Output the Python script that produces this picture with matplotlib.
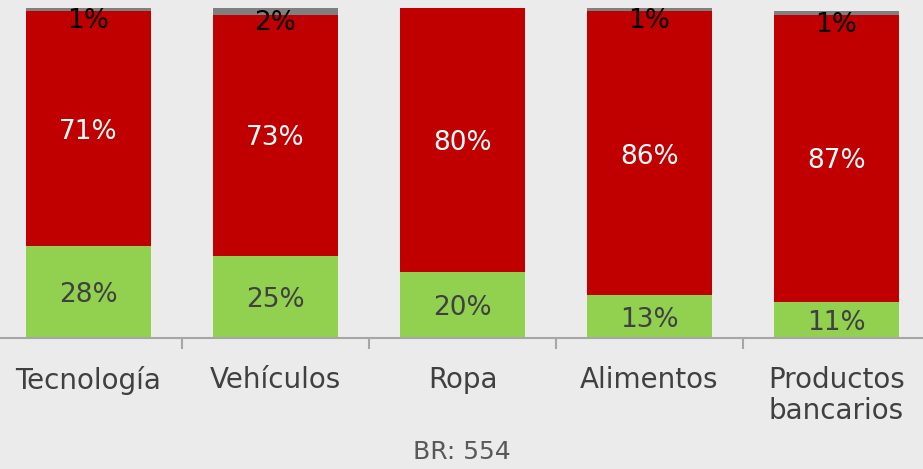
import matplotlib
matplotlib.use("Agg")
import matplotlib.pyplot as plt
import numpy as np

categories = ["Tecnología", "Vehículos", "Ropa", "Alimentos", "Productos\nbancarios"]
verde = [28, 25, 20, 13, 11]
rojo = [71, 73, 80, 86, 87]
gris = [1, 2, 0, 1, 1]
base_note = "BR: 554"

bg = "#EBEBEB"
c_green = "#92D050"
c_red = "#C00000"
c_gray = "#7F7F7F"

plt.rcParams["font.family"] = ["DejaVu Sans"]

fig = plt.figure(figsize=(9.23, 4.69), dpi=100, facecolor=bg)
ax = fig.add_axes([-5 / 923, 131 / 469, 935 / 923, 330 / 469])
ax.set_facecolor(bg)

x = np.arange(len(categories))
w = 0.67
g = np.array(verde)
r = np.array(rojo)
k = np.array(gris)

ax.bar(x, g, w, color=c_green)
ax.bar(x, r, w, bottom=g, color=c_red)
ax.bar(x, k, w, bottom=g + r, color=c_gray)

fs = 19
for i in range(len(categories)):
    ax.text(x[i], g[i] / 2 - 1, f"{g[i]}%", ha="center", va="center",
            fontsize=fs, color="#404040")
    ax.text(x[i], g[i] + r[i] / 2 - 1, f"{r[i]}%", ha="center", va="center",
            fontsize=fs, color="white")
    if k[i] > 0:
        ax.text(x[i], g[i] + r[i] + k[i] / 2 - 3.5, f"{k[i]}%", ha="center",
                va="center", fontsize=fs, color="black")

ax.set_xlim(-0.5, len(categories) - 0.5)
ax.set_ylim(0, 100)
ax.set_yticks([])
for s in ["top", "right", "left"]:
    ax.spines[s].set_visible(False)
ax.spines["bottom"].set_color("#A6A6A6")
ax.spines["bottom"].set_linewidth(1.5)

ax.set_xticks(x)
ax.set_xticklabels(categories, fontsize=20, color="#404040", linespacing=1.15,
                   va="top")
ax.tick_params(axis="x", which="major", length=0, pad=20)
ax.set_xticks(x[:-1] + 0.5, minor=True)
ax.tick_params(axis="x", which="minor", length=8, width=1.5, color="#A6A6A6")

fig.text(462 / 923, 1 - 452 / 469, base_note, ha="center", va="center",
         fontsize=18, color="#595959")

fig.savefig("out.png", dpi=100, facecolor=bg)
